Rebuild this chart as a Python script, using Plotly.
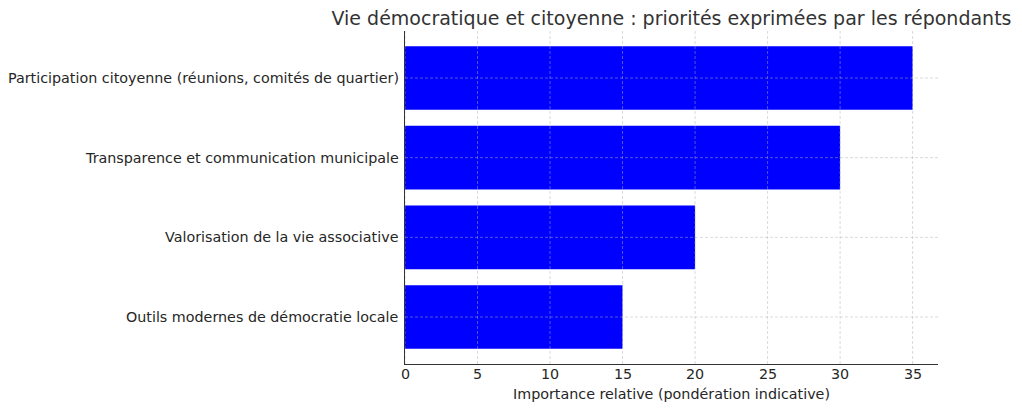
import plotly.graph_objects as go

categories = [
    "Participation citoyenne (réunions, comités de quartier)",
    "Transparence et communication municipale",
    "Valorisation de la vie associative",
    "Outils modernes de démocratie locale",
]
values = [35, 30, 20, 15]
x_ticks = [0, 5, 10, 15, 20, 25, 30, 35]

title = "Vie démocratique et citoyenne : priorités exprimées par les répondants"
x_title = "Importance relative (pondération indicative)"

# plot bottom-to-top like matplotlib barh with reversed list
cats_plot = categories[::-1]
vals_plot = values[::-1]
y_pos = list(range(len(cats_plot)))

fig = go.Figure(go.Bar(
    x=vals_plot,
    y=y_pos,
    orientation="h",
    width=0.8,
    marker=dict(color="#0000ff", line=dict(width=0)),
))

grid_style = dict(color="rgba(176,176,176,0.6)", width=0.8, dash="3px,2px")
shapes = []
for t in x_ticks:
    shapes.append(dict(type="line", xref="x", yref="paper", x0=t, x1=t, y0=0, y1=1,
                       line=grid_style, layer="above"))
for p in y_pos:
    shapes.append(dict(type="line", xref="paper", yref="y", x0=0, x1=1, y0=p, y1=p,
                       line=grid_style, layer="above"))

FS = 14.3
txt_color = "#262626"
annotations = []
for t in x_ticks:
    annotations.append(dict(text=str(t), x=t, xref="x", y=0, yref="paper",
                            xanchor="center", yanchor="middle", yshift=-10,
                            showarrow=False, font=dict(size=FS, color=txt_color)))
for p, c in zip(y_pos, cats_plot):
    annotations.append(dict(text=c, x=0, xref="paper", y=p, yref="y",
                            xanchor="right", yanchor="middle", xshift=-4,
                            showarrow=False, font=dict(size=FS, color=txt_color)))
annotations.append(dict(text=x_title, x=0.5, xref="paper", y=0, yref="paper",
                        xanchor="center", yanchor="middle", yshift=-30,
                        showarrow=False, font=dict(size=FS, color=txt_color)))

# page body has an 8px default margin; size the figure to fill the rest
W, H = 1014, 401
L, R, T, B = 397, 84, 23, 45

font = "DejaVu Sans, Verdana, sans-serif"
fig.update_layout(
    width=W, height=H,
    margin=dict(l=L, r=R, t=T, b=B),
    plot_bgcolor="white", paper_bgcolor="white",
    showlegend=False,
    shapes=shapes,
    annotations=annotations,
    font=dict(family=font, size=FS, color=txt_color),
    title=dict(text=title, x=(L + (W - R)) / 2 / W, xanchor="center",
               y=1 - 10.5 / H, yanchor="middle",
               font=dict(family=font, size=19, color="#333333")),
)
fig.update_xaxes(
    range=[0, 36.75], showticklabels=False, ticks="",
    showgrid=False, automargin=False,
    showline=True, linecolor="#333333", linewidth=1.2,
    zeroline=False, layer="above traces",
)
fig.update_yaxes(
    range=[-0.59, 3.59], showticklabels=False, ticks="",
    showgrid=False, automargin=False,
    showline=True, linecolor="#333333", linewidth=1.2,
    zeroline=False, layer="above traces",
)

fig.write_html("out.html")
